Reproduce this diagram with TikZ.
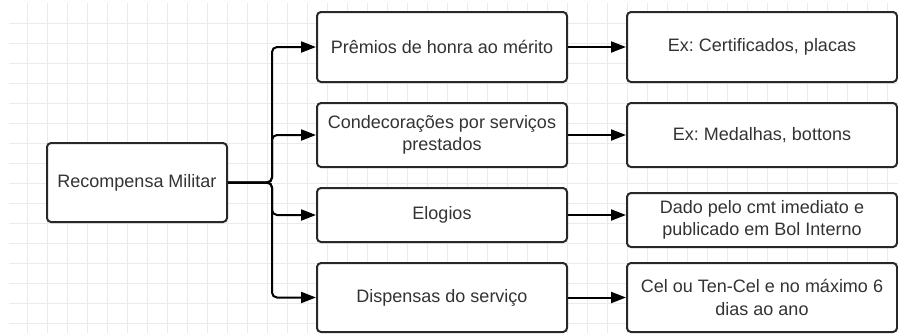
\documentclass[tikz,border=0pt]{standalone}
\usepackage{fontspec}
\setmainfont{Liberation Sans}
\usetikzlibrary{arrows.meta}
\definecolor{txt}{HTML}{333333}
\definecolor{bord}{HTML}{282828}
\definecolor{gridc}{HTML}{EBEBEB}
\frenchspacing
\begin{document}
\begin{tikzpicture}[x=1pt,y=-1pt,
  box/.style={draw=bord, line width=2pt, rounded corners=4pt, fill=white, text=txt,
    align=center, inner sep=4pt, font=\fontsize{18}{22.5}\selectfont},
  arr/.style={line width=2pt, draw=black, rounded corners=5pt, -{Triangle[length=15pt,width=11pt]}},
  gline/.style={draw=gridc, line width=1pt}]
\useasboundingbox (0,0) rectangle (898,333);
\fill[white] (0,0) rectangle (898,333);
\foreach \x in {27,47,...,887} \draw[gline] (\x,3) -- (\x,333);
\foreach \y in {23,43,...,323} \draw[gline] (9,\y) -- (898,\y);

\node[box, minimum width=180pt, minimum height=79pt] (rec) at (137,182.5) {Recompensa Militar};
\node[box, minimum width=250pt, minimum height=70pt] (pre) at (442,47) {Prêmios de honra ao mérito};
\node[box, minimum width=250pt, minimum height=64pt] (con) at (442,135) {Condecorações por serviços\\prestados};
\node[box, minimum width=250pt, minimum height=54pt] (elo) at (442,215) {Elogios};
\node[box, minimum width=250pt, minimum height=69pt] (dis) at (442,297.5) {Dispensas do serviço};
\node[box, minimum width=270pt, minimum height=70pt] (ex1) at (762,47) {Ex: Certificados, placas};
\node[box, minimum width=270pt, minimum height=64pt] (ex2) at (762,135) {Ex: Medalhas, bottons};
\node[box, minimum width=270pt, minimum height=54pt] (dad) at (762,220) {Dado pelo cmt imediato e\\publicado em Bol Interno};
\node[box, minimum width=270pt, minimum height=69pt] (cel) at (762,297.5) {Cel ou Ten-Cel e no máximo 6\\dias ao ano};

\coordinate (j) at (272,182.5);
\draw[arr] (rec.east) -- (j) |- (pre.west);
\draw[arr] (rec.east) -- (j) |- (con.west);
\draw[arr] (rec.east) -- (j) |- (elo.west);
\draw[arr] (rec.east) -- (j) |- (dis.west);
\draw[arr] (pre.east) -- (ex1.west);
\draw[arr] (con.east) -- (ex2.west);
\draw[arr] (elo.east) -- (elo.east -| dad.west);
\draw[arr] (dis.east) -- (cel.west);
\end{tikzpicture}
\end{document}
